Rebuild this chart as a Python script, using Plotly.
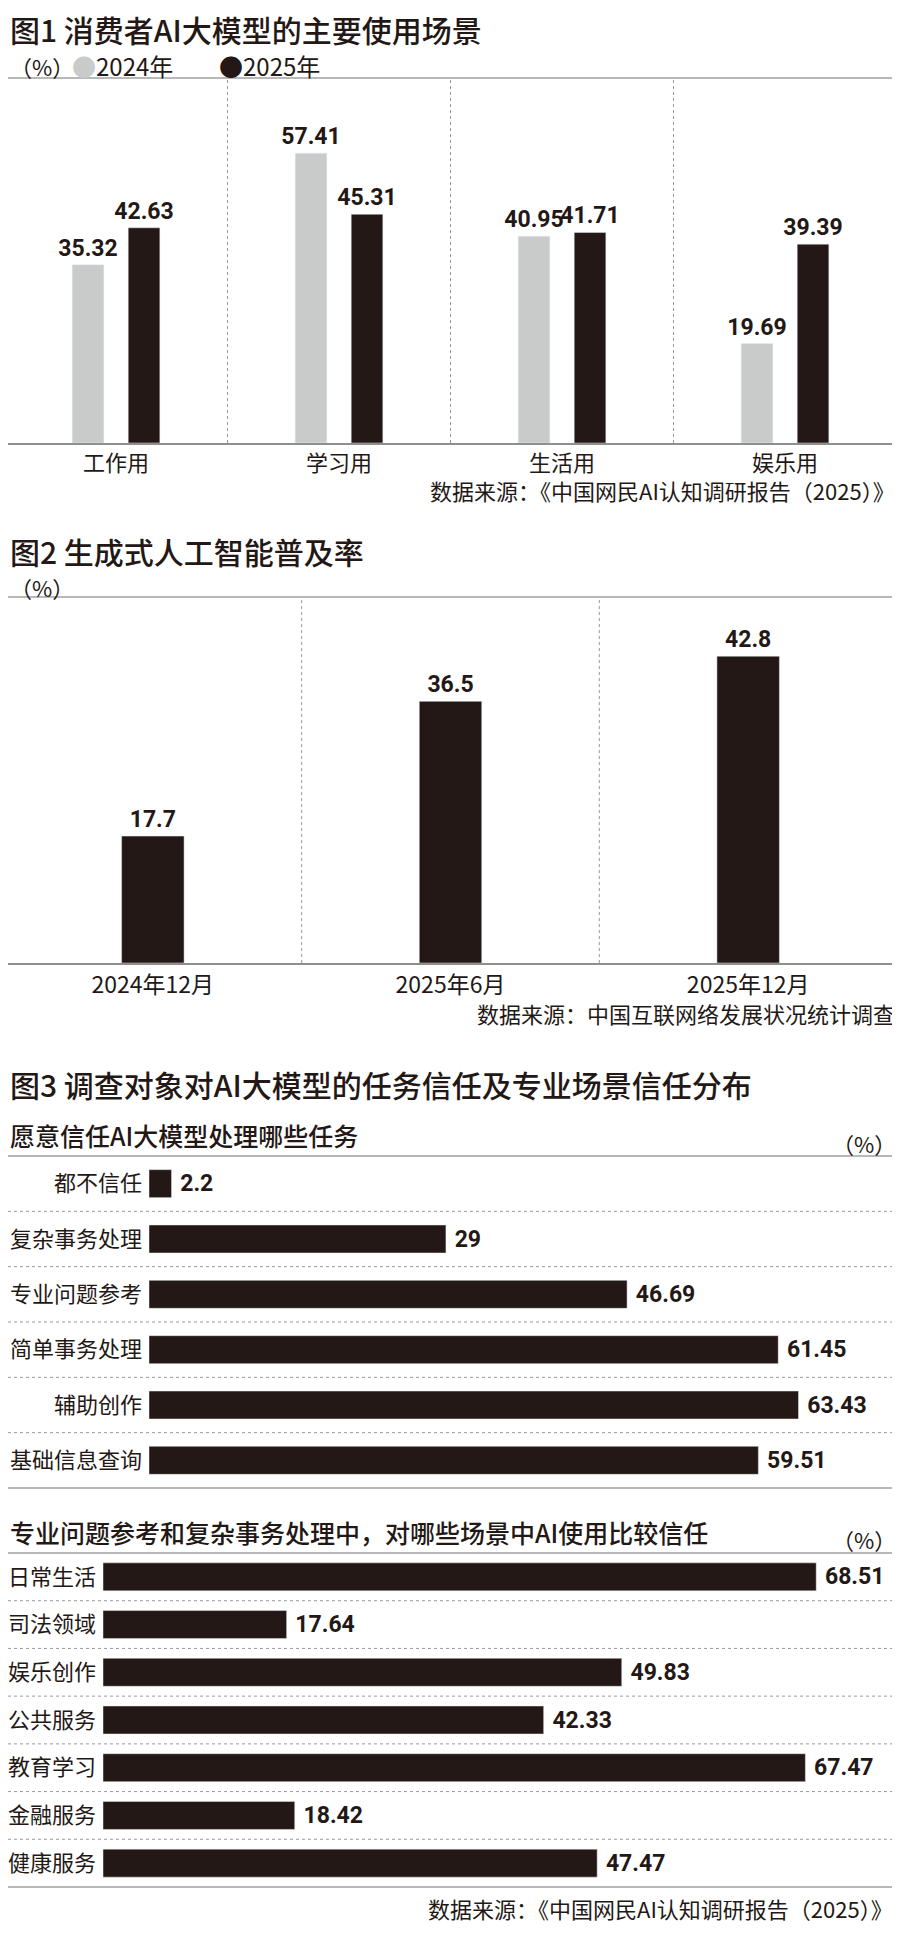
import plotly.graph_objects as go

# ---------------- data ----------------
c1_categories = ["工作用", "学习用", "生活用", "娱乐用"]
c1_series = ["2024年", "2025年"]
c1_2024 = [35.32, 57.41, 40.95, 19.69]
c1_2025 = [42.63, 45.31, 41.71, 39.39]

c2_categories = ["2024年12月", "2025年6月", "2025年12月"]
c2_values = [17.7, 36.5, 42.8]

c3a_categories = ["都不信任", "复杂事务处理", "专业问题参考", "简单事务处理", "辅助创作", "基础信息查询"]
c3a_values = [2.2, 29, 46.69, 61.45, 63.43, 59.51]

c3b_categories = ["日常生活", "司法领域", "娱乐创作", "公共服务", "教育学习", "金融服务", "健康服务"]
c3b_values = [68.51, 17.64, 49.83, 42.33, 67.47, 18.42, 47.47]

titles = ["图1 消费者AI大模型的主要使用场景", "图2 生成式人工智能普及率",
          "图3 调查对象对AI大模型的任务信任及专业场景信任分布"]
subtitles = ["愿意信任AI大模型处理哪些任务", "专业问题参考和复杂事务处理中，对哪些场景中AI使用比较信任"]
source_report = "数据来源：《中国网民AI认知调研报告（2025）》"
source_cnnic = "数据来源：中国互联网络发展状况统计调查"
unit = "（%）"

# ---------------- style / page geometry ----------------
# the page body keeps an 8px margin, so the figure is laid out in page pixels
OX, OY = 8, 8
W, H = 890, 1930

DARK = "#231815"
GRAY = "#c9caca"
LINE = "#a0a0a0"
DOT = "#9a9a9a"
CJK = "Noto Sans CJK SC"
NUM = "Roboto"


def px(x):
    return (x - OX) / W


def py(y):
    return 1 - (y - OY) / H


num_font = dict(family=NUM, size=23, color=DARK, weight="bold")
lab_font = dict(family=CJK, size=22, color=DARK)

fig = go.Figure()

# Chart 1: grouped bars
fig.add_trace(go.Bar(x=c1_categories, y=c1_2024, name=c1_series[0], marker_color=GRAY,
                     width=0.142, offset=-0.1965, texttemplate="%{y}",
                     textposition="outside", textfont=num_font, constraintext="none",
                     cliponaxis=False, showlegend=False, xaxis="x", yaxis="y"))
fig.add_trace(go.Bar(x=c1_categories, y=c1_2025, name=c1_series[1], marker_color=DARK,
                     width=0.142, offset=0.0547, texttemplate="%{y}",
                     textposition="outside", textfont=num_font, constraintext="none",
                     cliponaxis=False, showlegend=False, xaxis="x", yaxis="y"))

# Chart 2
fig.add_trace(go.Bar(x=c2_categories, y=c2_values, marker_color=DARK, width=0.21,
                     texttemplate="%{y}", textposition="outside", textfont=num_font,
                     constraintext="none", cliponaxis=False, showlegend=False,
                     xaxis="x2", yaxis="y2"))

# Chart 3a
fig.add_trace(go.Bar(y=c3a_categories, x=c3a_values, orientation="h", marker_color=DARK,
                     width=0.506, texttemplate="\u00a0%{x}", textposition="outside",
                     textfont=num_font, constraintext="none", cliponaxis=False,
                     showlegend=False, xaxis="x3", yaxis="y3"))

# Chart 3b
fig.add_trace(go.Bar(y=c3b_categories, x=c3b_values, orientation="h", marker_color=DARK,
                     width=0.587, texttemplate="\u00a0%{x}", textposition="outside",
                     textfont=num_font, constraintext="none", cliponaxis=False,
                     showlegend=False, xaxis="x4", yaxis="y4"))

hidden = dict(visible=False, showgrid=False, zeroline=False, fixedrange=True)

# chart 1 plot spans page x 4.5..896.5 (4 categories); chart 2 spans 4..897 (3 categories)
c1_cat_w = (896.5 - 4.5) / len(c1_categories)
c2_cat_w = (897 - 4) / len(c2_categories)

fig.update_layout(
    width=W, height=H, margin=dict(l=0, r=0, t=0, b=0),
    paper_bgcolor="white", plot_bgcolor="white", barmode="overlay",
    font=dict(family=CJK, color=DARK),
    xaxis=dict(domain=[0, px(896.5)], type="category",
               range=[-0.5 + (OX - 4.5) / c1_cat_w, len(c1_categories) - 0.5],
               showgrid=False, zeroline=False, showline=True, linecolor="#8f8f8f", linewidth=2,
               ticks="", tickfont=lab_font, anchor="y"),
    yaxis=dict(domain=[py(443), py(78)], range=[0, 72.3], anchor="x", **hidden),
    xaxis2=dict(domain=[0, px(897)], type="category",
                range=[-0.5 + (OX - 4) / c2_cat_w, len(c2_categories) - 0.5],
                showgrid=False, zeroline=False, showline=True, linecolor="#8f8f8f", linewidth=2,
                ticks="", tickfont=dict(family=CJK, size=23, color=DARK), anchor="y2"),
    yaxis2=dict(domain=[py(963), py(597)], range=[0, 51.05], anchor="x2", **hidden),
    xaxis3=dict(domain=[px(149), px(897)], range=[0, 73.05], anchor="y3", **hidden),
    yaxis3=dict(domain=[py(1488), py(1156)], type="category", categoryorder="array",
                categoryarray=c3a_categories, range=[len(c3a_categories) - 0.5, -0.5],
                showgrid=False, zeroline=False, showline=False, ticks="",
                tickfont=lab_font, ticklabelstandoff=6, anchor="x3"),
    xaxis4=dict(domain=[px(103), px(897)], range=[0, 76.27], anchor="y4", **hidden),
    yaxis4=dict(domain=[py(1887), py(1553)], type="category", categoryorder="array",
                categoryarray=c3b_categories, range=[len(c3b_categories) - 0.5, -0.5],
                showgrid=False, zeroline=False, showline=False, ticks="",
                tickfont=lab_font, ticklabelstandoff=6, anchor="x4"),
)

shapes = []


def hline(y, color=LINE, dash="solid", width=1.5):
    shapes.append(dict(type="line", xref="paper", yref="paper", x0=px(OX), x1=px(897),
                       y0=py(y), y1=py(y), line=dict(color=color, width=width, dash=dash)))


# solid frame lines
for y in (78, 597, 1156, 1488, 1553, 1887):
    hline(y)

# vertical dotted separators between categories (charts 1, 2)
for i in range(len(c1_categories) - 1):
    shapes.append(dict(type="line", xref="x", yref="y domain", x0=i + 0.5, x1=i + 0.5,
                       y0=0, y1=1, line=dict(color=DOT, width=1, dash="dot")))
for i in range(len(c2_categories) - 1):
    shapes.append(dict(type="line", xref="x2", yref="y2 domain", x0=i + 0.5, x1=i + 0.5,
                       y0=0, y1=1, line=dict(color=DOT, width=1, dash="dot")))

# horizontal dotted separators between rows (charts 3a, 3b)
for i in range(len(c3a_categories) - 1):
    shapes.append(dict(type="line", xref="paper", yref="y3", x0=px(OX), x1=px(897),
                       y0=i + 0.5, y1=i + 0.5, line=dict(color=DOT, width=1, dash="dot")))
for i in range(len(c3b_categories) - 1):
    shapes.append(dict(type="line", xref="paper", yref="y4", x0=px(OX), x1=px(897),
                       y0=i + 0.5, y1=i + 0.5, line=dict(color=DOT, width=1, dash="dot")))

fig.update_layout(shapes=shapes)

ann = []


def text(s, x, y, size, anchor="left", weight="normal", color=DARK):
    if anchor == "left":
        x = max(x, OX)
    ann.append(dict(text=s, xref="paper", yref="paper", x=px(x), y=py(y),
                    xanchor=anchor, yanchor="middle", showarrow=False,
                    font=dict(family=CJK, size=size, color=color, weight=weight)))


title_w = 500
text(titles[0], 6, 29, 30, weight=title_w)
text(unit, 2, 66, 22)
text("<span style='color:%s'>●</span>%s" % (GRAY, c1_series[0]), 70, 66, 24)
text("<span style='color:%s'>●</span>%s" % (DARK, c1_series[1]), 217, 66, 24)
text(source_report, 897, 490, 22, anchor="right")

text(titles[1], 6, 551, 30, weight=title_w)
text(unit, 2, 587, 22)
text(source_cnnic, 897, 1013, 22, anchor="right")

text(titles[2], 6, 1084, 30, weight=title_w)
text(subtitles[0], 6, 1135, 25, weight=title_w)
text(unit, 898, 1143, 22, anchor="right")
text(subtitles[1], 6, 1532, 25, weight=title_w)
text(unit, 898, 1539, 22, anchor="right")
text(source_report, 895, 1908, 22, anchor="right")

fig.update_layout(annotations=ann)

fig.write_html("out.html")
